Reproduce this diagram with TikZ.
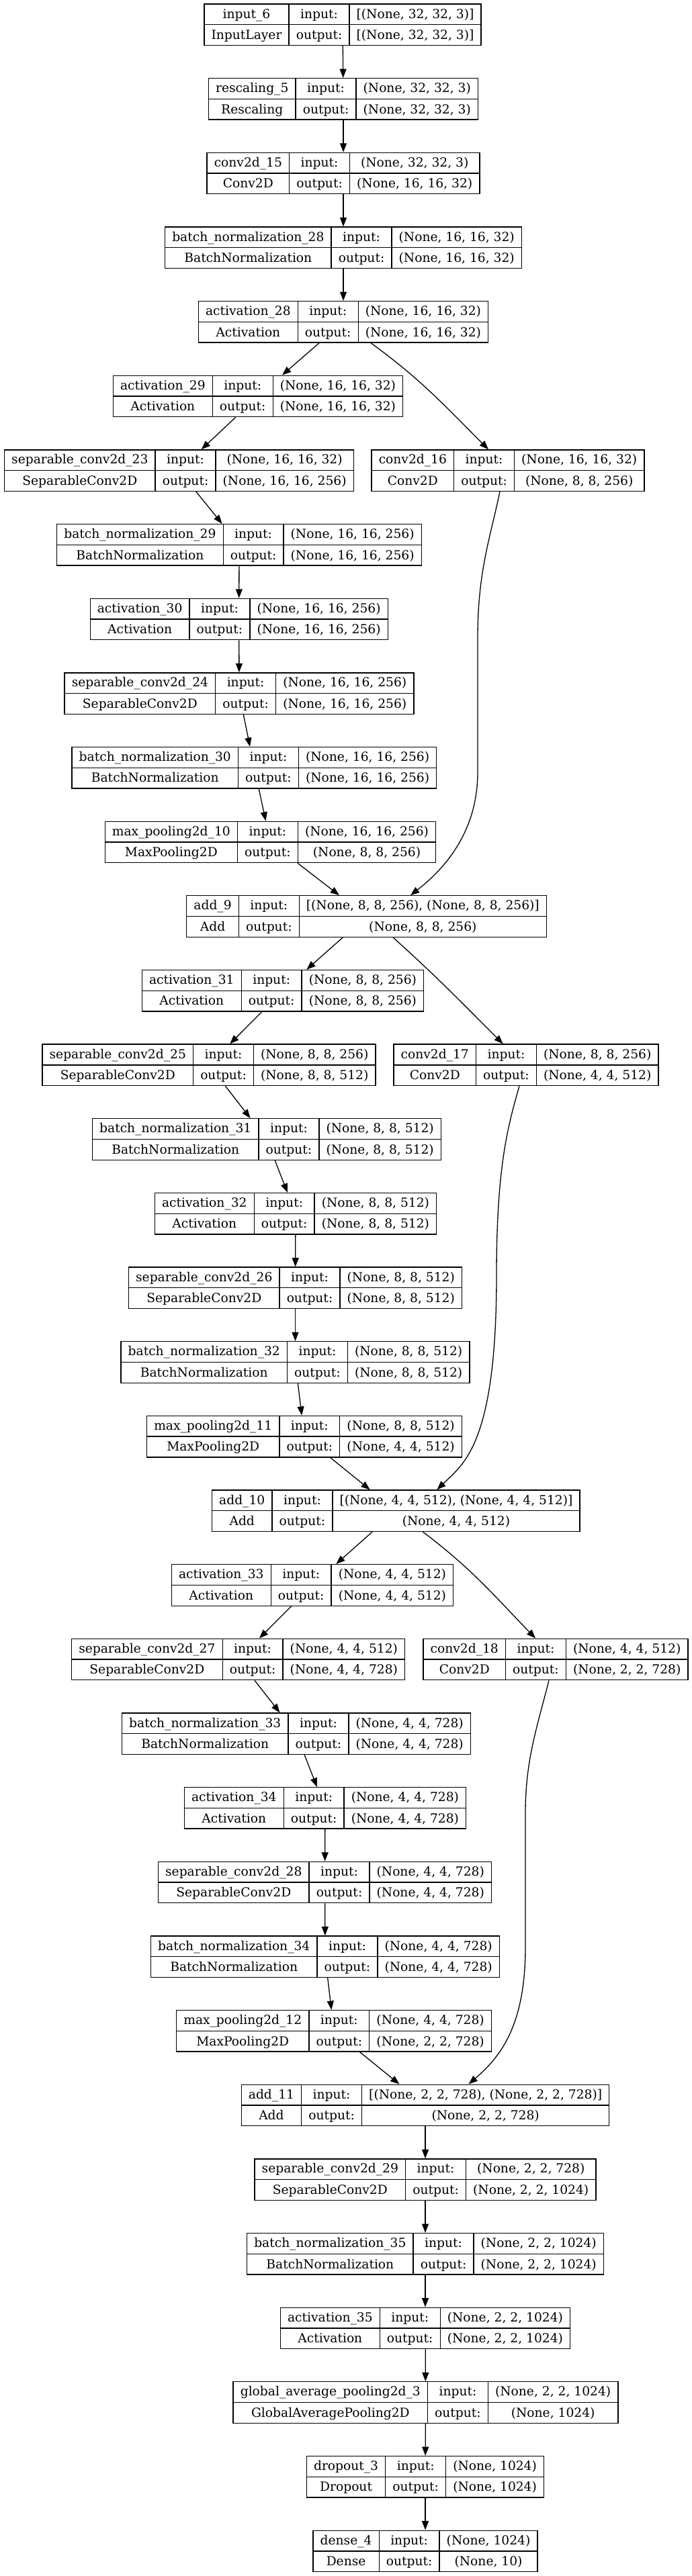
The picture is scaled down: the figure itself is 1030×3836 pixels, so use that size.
\documentclass[tikz,border=0pt]{standalone}
\usepackage{fontspec}
\setmainfont{DejaVu Serif}
\usetikzlibrary{arrows.meta}

\setlength{\tabcolsep}{10.67pt}
\setlength{\arrayrulewidth}{1.3pt}
\renewcommand{\arraystretch}{1.368}
% one keras layer: name, class, input shape, output shape
\newcommand{\record}[4]{\begin{tabular}{c|c|c}#1 & input: & #3\\\hline #2 & output: & #4\end{tabular}}

\begin{document}
\begin{tikzpicture}[
    x=1pt, y=1pt,
    layer/.style={draw, line width=1.3pt, inner sep=0pt, font=\fontsize{18.67pt}{22pt}\selectfont},
    arrow/.style={-{Triangle[length=13.3pt, width=10pt]}, line width=1.3pt}
]
    \useasboundingbox (0,0) rectangle (1030,-3836);

    % stem
    \node[layer] (input6) at (510,-36.75) {\record{input\_6}{InputLayer}{[(None, 32, 32, 3)]}{[(None, 32, 32, 3)]}};
    \node[layer] (rescaling5) at (511,-147.4) {\record{rescaling\_5}{Rescaling}{(None, 32, 32, 3)}{(None, 32, 32, 3)}};
    \node[layer] (conv15) at (511,-258.05) {\record{conv2d\_15}{Conv2D}{(None, 32, 32, 3)}{(None, 16, 16, 32)}};
    \node[layer] (bn28) at (511,-368.7) {\record{batch\_normalization\_28}{BatchNormalization}{(None, 16, 16, 32)}{(None, 16, 16, 32)}};
    \node[layer] (act28) at (511,-479.35) {\record{activation\_28}{Activation}{(None, 16, 16, 32)}{(None, 16, 16, 32)}};

    % block 1
    \node[layer] (act29) at (384,-590) {\record{activation\_29}{Activation}{(None, 16, 16, 32)}{(None, 16, 16, 32)}};
    \node[layer] (sep23) at (266.4,-700.65) {\record{separable\_conv2d\_23}{SeparableConv2D}{(None, 16, 16, 32)}{(None, 16, 16, 256)}};
    \node[layer] (conv16) at (756,-700.65) {\record{conv2d\_16}{Conv2D}{(None, 16, 16, 32)}{(None, 8, 8, 256)}};
    \node[layer] (bn29) at (356,-811.3) {\record{batch\_normalization\_29}{BatchNormalization}{(None, 16, 16, 256)}{(None, 16, 16, 256)}};
    \node[layer] (act30) at (355.7,-921.95) {\record{activation\_30}{Activation}{(None, 16, 16, 256)}{(None, 16, 16, 256)}};
    \node[layer] (sep24) at (356,-1032.6) {\record{separable\_conv2d\_24}{SeparableConv2D}{(None, 16, 16, 256)}{(None, 16, 16, 256)}};
    \node[layer] (bn30) at (378.4,-1143.25) {\record{batch\_normalization\_30}{BatchNormalization}{(None, 16, 16, 256)}{(None, 16, 16, 256)}};
    \node[layer] (pool10) at (402.4,-1253.9) {\record{max\_pooling2d\_10}{MaxPooling2D}{(None, 16, 16, 256)}{(None, 8, 8, 256)}};
    \node[layer] (add9) at (545.6,-1364.55) {\record{add\_9}{Add}{[(None, 8, 8, 256), (None, 8, 8, 256)]}{(None, 8, 8, 256)}};

    % block 2
    \node[layer] (act31) at (421,-1475.2) {\record{activation\_31}{Activation}{(None, 8, 8, 256)}{(None, 8, 8, 256)}};
    \node[layer] (sep25) at (311,-1585.85) {\record{separable\_conv2d\_25}{SeparableConv2D}{(None, 8, 8, 256)}{(None, 8, 8, 512)}};
    \node[layer] (conv17) at (783,-1585.85) {\record{conv2d\_17}{Conv2D}{(None, 8, 8, 256)}{(None, 4, 4, 512)}};
    \node[layer] (bn31) at (397,-1696.5) {\record{batch\_normalization\_31}{BatchNormalization}{(None, 8, 8, 512)}{(None, 8, 8, 512)}};
    \node[layer] (act32) at (440,-1807.15) {\record{activation\_32}{Activation}{(None, 8, 8, 512)}{(None, 8, 8, 512)}};
    \node[layer] (sep26) at (439.5,-1917.8) {\record{separable\_conv2d\_26}{SeparableConv2D}{(None, 8, 8, 512)}{(None, 8, 8, 512)}};
    \node[layer] (bn32) at (439.5,-2028.45) {\record{batch\_normalization\_32}{BatchNormalization}{(None, 8, 8, 512)}{(None, 8, 8, 512)}};
    \node[layer] (pool11) at (453,-2139.1) {\record{max\_pooling2d\_11}{MaxPooling2D}{(None, 8, 8, 512)}{(None, 4, 4, 512)}};
    \node[layer] (add10) at (589.3,-2249.75) {\record{add\_10}{Add}{[(None, 4, 4, 512), (None, 4, 4, 512)]}{(None, 4, 4, 512)}};

    % block 3
    \node[layer] (act33) at (465,-2360.4) {\record{activation\_33}{Activation}{(None, 4, 4, 512)}{(None, 4, 4, 512)}};
    \node[layer] (sep27) at (354.6,-2471.05) {\record{separable\_conv2d\_27}{SeparableConv2D}{(None, 4, 4, 512)}{(None, 4, 4, 728)}};
    \node[layer] (conv18) at (827,-2471.05) {\record{conv2d\_18}{Conv2D}{(None, 4, 4, 512)}{(None, 2, 2, 728)}};
    \node[layer] (bn33) at (441,-2581.7) {\record{batch\_normalization\_33}{BatchNormalization}{(None, 4, 4, 728)}{(None, 4, 4, 728)}};
    \node[layer] (act34) at (484,-2692.35) {\record{activation\_34}{Activation}{(None, 4, 4, 728)}{(None, 4, 4, 728)}};
    \node[layer] (sep28) at (483.5,-2803) {\record{separable\_conv2d\_28}{SeparableConv2D}{(None, 4, 4, 728)}{(None, 4, 4, 728)}};
    \node[layer] (bn34) at (484,-2913.65) {\record{batch\_normalization\_34}{BatchNormalization}{(None, 4, 4, 728)}{(None, 4, 4, 728)}};
    \node[layer] (pool12) at (497,-3024.3) {\record{max\_pooling2d\_12}{MaxPooling2D}{(None, 4, 4, 728)}{(None, 2, 2, 728)}};
    \node[layer] (add11) at (633,-3134.95) {\record{add\_11}{Add}{[(None, 2, 2, 728), (None, 2, 2, 728)]}{(None, 2, 2, 728)}};

    % head
    \node[layer] (sep29) at (633,-3245.6) {\record{separable\_conv2d\_29}{SeparableConv2D}{(None, 2, 2, 728)}{(None, 2, 2, 1024)}};
    \node[layer] (bn35) at (633,-3356.25) {\record{batch\_normalization\_35}{BatchNormalization}{(None, 2, 2, 1024)}{(None, 2, 2, 1024)}};
    \node[layer] (act35) at (633,-3466.9) {\record{activation\_35}{Activation}{(None, 2, 2, 1024)}{(None, 2, 2, 1024)}};
    \node[layer] (gap3) at (633.5,-3577.55) {\record{global\_average\_pooling2d\_3}{GlobalAveragePooling2D}{(None, 2, 2, 1024)}{(None, 1024)}};
    \node[layer] (drop3) at (633,-3688.2) {\record{dropout\_3}{Dropout}{(None, 1024)}{(None, 1024)}};
    \node[layer] (dense4) at (633,-3798.85) {\record{dense\_4}{Dense}{(None, 1024)}{(None, 10)}};

    \draw[arrow] (input6) -- (rescaling5);
    \draw[arrow] (rescaling5) -- (conv15);
    \draw[arrow] (conv15) -- (bn28);
    \draw[arrow] (bn28) -- (act28);
    \draw[arrow] (act28) -- (act29);
    \draw[arrow] ([xshift=41pt]act28.south) to[out=-36, in=135] ([xshift=-29pt]conv16.north);
    \draw[arrow] (act29) -- (sep23);
    \draw[arrow] (sep23) -- (bn29);
    \draw[arrow] (bn29) -- (act30);
    \draw[arrow] (act30) -- (sep24);
    \draw[arrow] (sep24) -- (bn30);
    \draw[arrow] (bn30) -- (pool10);
    \draw[arrow] (pool10) -- (add9);
    \draw[arrow] ([xshift=-12pt]conv16.south) .. controls (730,-800) and (711,-850) .. (711,-950)
        -- (711,-1150) .. controls (711,-1240) and (660,-1295) .. ([xshift=65.4pt]add9.north);

    \draw[arrow] (add9) -- (act31);
    \draw[arrow] ([xshift=39.4pt]add9.south) to[out=-42, in=135] ([xshift=-34.3pt]conv17.north);
    \draw[arrow] (act31) -- (sep25);
    \draw[arrow] (sep25) -- (bn31);
    \draw[arrow] (bn31) -- (act32);
    \draw[arrow] (act32) -- (sep26);
    \draw[arrow] (sep26) -- (bn32);
    \draw[arrow] (bn32) -- (pool11);
    \draw[arrow] (pool11) -- (add10);
    \draw[arrow] ([xshift=-10pt]conv17.south) .. controls (755,-1680) and (739,-1740) .. (739,-1900)
        .. controls (739,-2150) and (690,-2180) .. ([xshift=61.1pt]add10.north);

    \draw[arrow] (add10) -- (act33);
    \draw[arrow] ([xshift=40.1pt]add10.south) to[out=-37, in=134] ([xshift=-30pt]conv18.north);
    \draw[arrow] (act33) -- (sep27);
    \draw[arrow] (sep27) -- (bn33);
    \draw[arrow] (bn33) -- (act34);
    \draw[arrow] (act34) -- (sep28);
    \draw[arrow] (sep28) -- (bn34);
    \draw[arrow] (bn34) -- (pool12);
    \draw[arrow] (pool12) -- (add11);
    \draw[arrow] ([xshift=-10pt]conv18.south) .. controls (800,-2570) and (782,-2620) .. (782,-2700)
        -- (782,-2900) .. controls (782,-3020) and (742,-3065) .. ([xshift=64.6pt]add11.north);

    \draw[arrow] (add11) -- (sep29);
    \draw[arrow] (sep29) -- (bn35);
    \draw[arrow] (bn35) -- (act35);
    \draw[arrow] (act35) -- (gap3);
    \draw[arrow] (gap3) -- (drop3);
    \draw[arrow] (drop3) -- (dense4);
\end{tikzpicture}
\end{document}
